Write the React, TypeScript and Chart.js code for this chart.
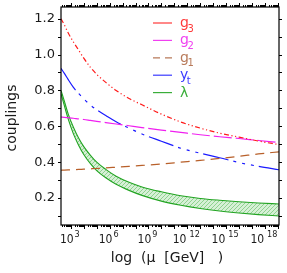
import { useEffect, useRef } from 'react';
import { Chart, registerables } from 'chart.js';

Chart.register(...registerables);

// log10(mu / GeV) sample positions
const logMu = [2.24, 2.5, 2.8, 3.2, 3.6, 4, 4.5, 5, 5.7, 6.5, 7.5, 8.5, 10, 11.5, 13, 14.5, 16, 17.5, 19.09];

const g3 = [1.2, 1.165, 1.12, 1.07, 1.025, 0.98, 0.93, 0.89, 0.845, 0.8, 0.755, 0.72, 0.668, 0.624, 0.59, 0.562, 0.54, 0.518, 0.498];
const g2 = [0.652, 0.65, 0.648, 0.645, 0.641, 0.638, 0.633, 0.628, 0.621, 0.613, 0.603, 0.593, 0.579, 0.566, 0.553, 0.542, 0.532, 0.521, 0.51];
const g1 = [0.355, 0.356, 0.357, 0.358, 0.36, 0.361, 0.363, 0.365, 0.368, 0.372, 0.377, 0.382, 0.39, 0.4, 0.41, 0.421, 0.433, 0.446, 0.458];
const yt = [0.923, 0.895, 0.86, 0.817, 0.783, 0.753, 0.719, 0.692, 0.66, 0.625, 0.59, 0.557, 0.517, 0.478, 0.45, 0.425, 0.398, 0.377, 0.358];
const lambdaUpper = [0.8, 0.74, 0.668, 0.595, 0.535, 0.487, 0.44, 0.4, 0.36, 0.322, 0.288, 0.262, 0.235, 0.213, 0.198, 0.188, 0.18, 0.173, 0.167];
const lambdaLower = [0.78, 0.715, 0.64, 0.558, 0.495, 0.443, 0.393, 0.353, 0.313, 0.277, 0.243, 0.215, 0.183, 0.16, 0.142, 0.128, 0.117, 0.108, 0.1];

const xMin = 2.24;
const xMax = 19.09;
const yMin = 0.05;
const yMax = 1.265;

const yTicks = [0.1, 0.2, 0.3, 0.4, 0.5, 0.6, 0.7, 0.8, 0.9, 1.0, 1.1, 1.2];
const yLabels = [0.2, 0.4, 0.6, 0.8, 1.0, 1.2];
const xLabelExponents = [3, 6, 9, 12, 15, 18];
const xDecades = [2, 3, 4, 5, 6, 7, 8, 9, 10, 11, 12, 13, 14, 15, 16, 17, 18, 19];
const xMinorMultipliers = [2, 3, 4, 5, 6, 7, 8, 9];

const legendNames = ['g', 'g', 'g', 'y', 'λ'];
const legendSubs = ['3', '2', '1', 't', ''];
const legendColors = ['#ff3a3a', '#f040f0', '#b87a5a', '#3a3aff', '#3aae3a'];
const legendDash: number[][] = [[], [], [7, 5], [], []];

const xTitle = 'log  (μ  [GeV]   )';
const yTitle = 'couplings';

const pts = (ys: number[]) => logMu.map((x, i) => ({ x, y: ys[i] }));

function makeHatch(): CanvasPattern | string {
  const c = document.createElement('canvas');
  c.width = 4;
  c.height = 4;
  const g = c.getContext('2d');
  if (!g) return 'rgba(120,200,120,0.5)';
  g.fillStyle = '#d6f0d6';
  g.fillRect(0, 0, 4, 4);
  g.strokeStyle = '#8fd28f';
  g.lineWidth = 1;
  g.beginPath();
  g.moveTo(0, 4);
  g.lineTo(4, 0);
  g.moveTo(-1, 1);
  g.lineTo(1, -1);
  g.moveTo(3, 5);
  g.lineTo(5, 3);
  g.stroke();
  return g.createPattern(c, 'repeat') || 'rgba(120,200,120,0.5)';
}

const framePlugin = {
  id: 'frameAndLabels',
  afterDraw(chart: any) {
    const { ctx, chartArea: a } = chart;
    const xs = chart.scales.x;
    const ys = chart.scales.y;
    ctx.save();
    ctx.strokeStyle = '#000';
    ctx.fillStyle = '#000';
    ctx.lineWidth = 1.2;
    ctx.setLineDash([]);
    ctx.strokeRect(a.left, a.top, a.right - a.left, a.bottom - a.top);

    // y ticks (both sides, outward)
    ctx.lineWidth = 1;
    ctx.beginPath();
    for (const v of yTicks) {
      const py = Math.round(ys.getPixelForValue(v)) + 0.5;
      if (py < a.top || py > a.bottom) continue;
      ctx.moveTo(a.left - 3, py);
      ctx.lineTo(a.left, py);
      ctx.moveTo(a.right, py);
      ctx.lineTo(a.right + 3, py);
    }
    // x ticks (top and bottom, outward), log minor ticks
    for (const d of xDecades) {
      const vals = [{ v: d, len: 4 }].concat(xMinorMultipliers.map((m) => ({ v: d + Math.log10(m), len: 2 })));
      for (const t of vals) {
        if (t.v < xMin || t.v > xMax) continue;
        const px = Math.round(xs.getPixelForValue(t.v)) + 0.5;
        ctx.moveTo(px, a.bottom);
        ctx.lineTo(px, a.bottom + t.len);
        ctx.moveTo(px, a.top);
        ctx.lineTo(px, a.top - t.len);
      }
    }
    ctx.stroke();

    // y labels
    ctx.fillStyle = '#1a1a1a';
    ctx.font = '13px "DejaVu Sans", sans-serif';
    ctx.textAlign = 'right';
    ctx.textBaseline = 'middle';
    for (const v of yLabels) {
      ctx.fillText(v.toFixed(1), a.left - 6, ys.getPixelForValue(v));
    }

    // x labels 10^n
    ctx.textAlign = 'left';
    ctx.textBaseline = 'alphabetic';
    const baseFont = '12px "Liberation Sans Narrow", "DejaVu Sans Condensed", sans-serif';
    const expFont = '9px "Liberation Sans Narrow", "DejaVu Sans Condensed", sans-serif';
    for (const e of xLabelExponents) {
      const px = xs.getPixelForValue(e);
      ctx.font = baseFont;
      const w10 = ctx.measureText('10').width;
      ctx.font = expFont;
      const we = ctx.measureText(String(e)).width;
      const gap = e >= 10 ? 3 : 1;
      const start = px - (w10 + gap + we) / 2 - 1;
      ctx.font = baseFont;
      ctx.fillText('10', start, a.bottom + 18);
      ctx.font = expFont;
      ctx.fillText(String(e), start + w10 + gap, a.bottom + 12);
    }

    // axis titles
    ctx.font = '14px "DejaVu Sans", sans-serif';
    ctx.textAlign = 'center';
    ctx.fillText(xTitle, (a.left + a.right) / 2 - 3, a.bottom + 37);
    ctx.save();
    ctx.translate(12, (a.top + a.bottom) / 2 + 2);
    ctx.rotate(-Math.PI / 2);
    ctx.textBaseline = 'middle';
    ctx.fillText(yTitle, 0, 0);
    ctx.restore();

    // legend
    for (let i = 0; i < legendNames.length; i++) {
      const rowY = a.top + 16 + i * 17.4;
      ctx.strokeStyle = legendColors[i];
      ctx.lineWidth = 1.2;
      ctx.setLineDash(legendDash[i]);
      ctx.beginPath();
      ctx.moveTo(a.left + 92, rowY);
      ctx.lineTo(a.left + 111, rowY);
      ctx.stroke();
      ctx.setLineDash([]);
      ctx.fillStyle = legendColors[i];
      ctx.textAlign = 'left';
      ctx.textBaseline = 'alphabetic';
      ctx.font = '14px "DejaVu Sans", sans-serif';
      const tx = a.left + 119;
      ctx.fillText(legendNames[i], tx, rowY + 4);
      if (legendSubs[i]) {
        const w = ctx.measureText(legendNames[i]).width;
        ctx.font = '10px "DejaVu Sans", sans-serif';
        ctx.fillText(legendSubs[i], tx + w - 1.5, rowY + 8.5);
      }
    }
    ctx.restore();
  },
};

export default function App() {
  const ref = useRef<HTMLCanvasElement | null>(null);
  useEffect(() => {
    if (!ref.current) return;
    const hatch = makeHatch();
    const common = {
      pointRadius: 0,
      borderWidth: 1.2,
      cubicInterpolationMode: 'monotone' as const,
      fill: false,
    };
    const chart = new Chart(ref.current, {
      type: 'line',
      data: {
        datasets: [
          { ...common, label: 'g3', data: pts(g3), borderColor: '#ff1a1a', borderDash: [5, 2.5, 1.2, 2.5, 1.2, 2.5] },
          { ...common, label: 'g2', data: pts(g2), borderColor: '#f020f0', borderDash: [18, 4] },
          { ...common, label: 'g1', data: pts(g1), borderColor: '#b8602a', borderDash: [9, 6] },
          { ...common, label: 'yt', data: pts(yt), borderColor: '#1a1aff', borderDash: [26, 5, 3, 6, 3, 6, 3, 5] },
          { ...common, label: 'λ max', data: pts(lambdaUpper), borderColor: '#22a422', borderWidth: 1.1 },
          { ...common, label: 'λ min', data: pts(lambdaLower), borderColor: '#22a422', borderWidth: 1.1, fill: '-1', backgroundColor: hatch },
        ],
      },
      options: {
        responsive: false,
        animation: false,
        layout: { padding: { left: 61, right: 8, top: 7, bottom: 48 } },
        scales: {
          x: { type: 'linear', min: xMin, max: xMax, display: false },
          y: { type: 'linear', min: yMin, max: yMax, display: false },
        },
        plugins: { legend: { display: false }, tooltip: { enabled: false } },
      },
      plugins: [framePlugin],
    });
    return () => chart.destroy();
  }, []);
  return (
    <div style={{ position: 'fixed', left: 0, top: 0, width: 287, height: 273, background: '#fff' }}>
      <canvas ref={ref} width={287} height={273} style={{ display: 'block' }} />
    </div>
  );
}
